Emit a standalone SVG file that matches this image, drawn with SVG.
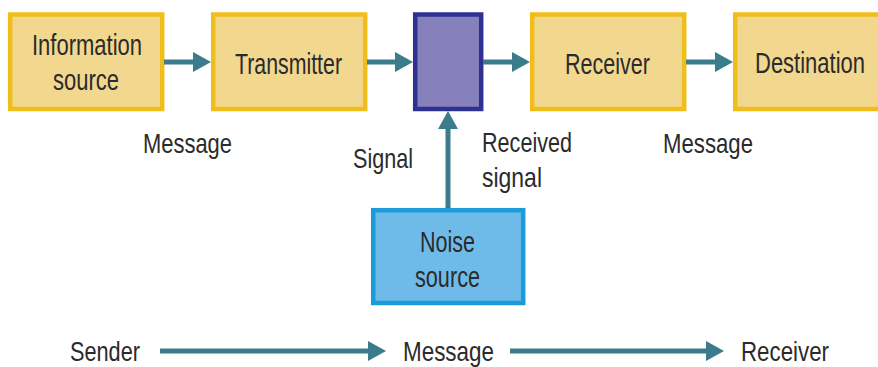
<svg xmlns="http://www.w3.org/2000/svg" width="878" height="367" viewBox="0 0 878 367">
<style>
.box{fill:#f2d78f;stroke:#f0be1b;stroke-width:4.5}
.chan{fill:#8680bd;stroke:#2e3192;stroke-width:4.5}
.noise{fill:#6ebbe9;stroke:#1b9bd7;stroke-width:4.5}
.t{font-family:"Liberation Sans",Arial,sans-serif;font-size:28px;fill:#2b2b2b}
.b{font-size:30px}
.ln{stroke:#3a7b8c;stroke-width:5;fill:none}
</style>
<defs>
<marker id="ah" viewBox="0 0 18 20" refX="8" refY="10" markerWidth="18" markerHeight="20" markerUnits="userSpaceOnUse" orient="auto">
<path d="M0,0 L18,10 L0,20 z" fill="#3a7b8c"/>
</marker>
</defs>
<rect width="878" height="367" fill="#ffffff"/>
<g id="info">
<rect class="box" x="10.2" y="14.5" width="152" height="94.5"/>
<text class="t b" x="32" y="55" textLength="110" lengthAdjust="spacingAndGlyphs">Information</text>
<text class="t b" x="53" y="90" textLength="66" lengthAdjust="spacingAndGlyphs">source</text>
</g>
<g id="transmitter">
<rect class="box" x="213.2" y="14.5" width="152" height="94.5"/>
<text class="t b" x="235" y="74" textLength="107" lengthAdjust="spacingAndGlyphs">Transmitter</text>
</g>
<g id="channel">
<rect class="chan" x="415.2" y="14.5" width="66" height="94.5"/>
</g>
<g id="receiver">
<rect class="box" x="532.2" y="14.5" width="152" height="94.5"/>
<text class="t b" x="565" y="74" textLength="85" lengthAdjust="spacingAndGlyphs">Receiver</text>
</g>
<g id="destination">
<rect class="box" x="735.2" y="14.5" width="150" height="94.5"/>
<text class="t b" x="755" y="73" textLength="110" lengthAdjust="spacingAndGlyphs">Destination</text>
</g>
<g id="noise">
<rect class="noise" x="373.2" y="210.2" width="150" height="92.8"/>
<text class="t b" x="420" y="252" textLength="55" lengthAdjust="spacingAndGlyphs">Noise</text>
<text class="t b" x="415" y="287" textLength="65" lengthAdjust="spacingAndGlyphs">source</text>
</g>
<g id="connectors">
<line class="ln" x1="164" y1="62" x2="201" y2="62" marker-end="url(#ah)"/>
<line class="ln" x1="367" y1="62" x2="403" y2="62" marker-end="url(#ah)"/>
<line class="ln" x1="483" y1="62" x2="520" y2="62" marker-end="url(#ah)"/>
<line class="ln" x1="686" y1="62" x2="723" y2="62" marker-end="url(#ah)"/>
<line class="ln" x1="448" y1="208" x2="448" y2="121" marker-end="url(#ah)"/>
<line class="ln" x1="160" y1="351" x2="376" y2="351" marker-end="url(#ah)"/>
<line class="ln" x1="510" y1="351" x2="714" y2="351" marker-end="url(#ah)"/>
</g>
<g id="labels">
<text class="t" x="143" y="153" textLength="89" lengthAdjust="spacingAndGlyphs">Message</text>
<text class="t" x="353" y="168" textLength="60" lengthAdjust="spacingAndGlyphs">Signal</text>
<text class="t" x="482" y="152" textLength="90" lengthAdjust="spacingAndGlyphs">Received</text>
<text class="t" x="482" y="187" textLength="60" lengthAdjust="spacingAndGlyphs">signal</text>
<text class="t" x="663" y="153" textLength="90" lengthAdjust="spacingAndGlyphs">Message</text>
<text class="t" x="70" y="361" textLength="70" lengthAdjust="spacingAndGlyphs">Sender</text>
<text class="t" x="403" y="361" textLength="91" lengthAdjust="spacingAndGlyphs">Message</text>
<text class="t" x="741" y="361" textLength="88" lengthAdjust="spacingAndGlyphs">Receiver</text>
</g>
</svg>
